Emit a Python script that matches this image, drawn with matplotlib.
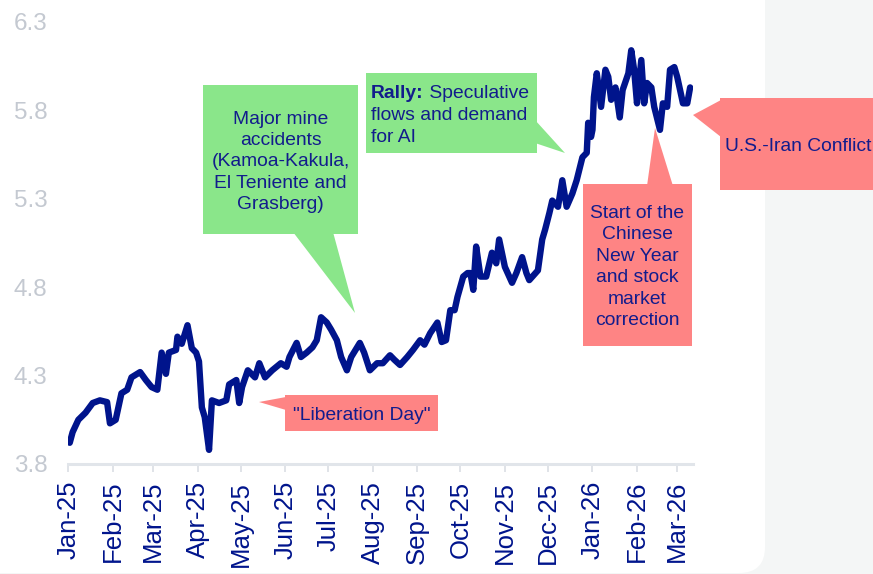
import matplotlib
matplotlib.use("Agg")
import matplotlib.pyplot as plt
import matplotlib.dates as mdates
from matplotlib.patches import Polygon, FancyBboxPatch
from matplotlib.transforms import IdentityTransform
import pandas as pd

plt.rcParams['font.family'] = ['Liberation Sans', 'DejaVu Sans']

# copper price (USD/lb)
dates = ["2025-01-02", "2025-01-04", "2025-01-08", "2025-01-13", "2025-01-18", "2025-01-23",
         "2025-01-28", "2025-01-30", "2025-02-03", "2025-02-07", "2025-02-11", "2025-02-14",
         "2025-02-20", "2025-02-24", "2025-02-28", "2025-03-04", "2025-03-07", "2025-03-10",
         "2025-03-12", "2025-03-17", "2025-03-18", "2025-03-21", "2025-03-25", "2025-03-28",
         "2025-03-31", "2025-04-02", "2025-04-04", "2025-04-06", "2025-04-09", "2025-04-11",
         "2025-04-16", "2025-04-21", "2025-04-23", "2025-04-28", "2025-04-30", "2025-05-02",
         "2025-05-06", "2025-05-11", "2025-05-14", "2025-05-18", "2025-05-23", "2025-05-29",
         "2025-06-02", "2025-06-04", "2025-06-09", "2025-06-12", "2025-06-16", "2025-06-20",
         "2025-06-23", "2025-06-26", "2025-06-30", "2025-07-03", "2025-07-07", "2025-07-10",
         "2025-07-14", "2025-07-17", "2025-07-23", "2025-07-26", "2025-07-30", "2025-08-04",
         "2025-08-08", "2025-08-13", "2025-08-16", "2025-08-20", "2025-08-25", "2025-08-29",
         "2025-09-03", "2025-09-06", "2025-09-10", "2025-09-15", "2025-09-18", "2025-09-21",
         "2025-09-24", "2025-09-27", "2025-09-29", "2025-10-03", "2025-10-06", "2025-10-08",
         "2025-10-10", "2025-10-12", "2025-10-15", "2025-10-19", "2025-10-23", "2025-10-26",
         "2025-10-28", "2025-11-01", "2025-11-06", "2025-11-09", "2025-11-13", "2025-11-16",
         "2025-11-18", "2025-11-24", "2025-11-27", "2025-11-29", "2025-12-02", "2025-12-04",
         "2025-12-08", "2025-12-11", "2025-12-14", "2025-12-18", "2025-12-21", "2025-12-25",
         "2025-12-28", "2025-12-29", "2025-12-31", "2026-01-01", "2026-01-02", "2026-01-04",
         "2026-01-07", "2026-01-10", "2026-01-12", "2026-01-14", "2026-01-17", "2026-01-20",
         "2026-01-22", "2026-01-26", "2026-01-28", "2026-01-30", "2026-02-01", "2026-02-04",
         "2026-02-06", "2026-02-08", "2026-02-11", "2026-02-13", "2026-02-17", "2026-02-19",
         "2026-02-22", "2026-02-24", "2026-02-27", "2026-03-01", "2026-03-05", "2026-03-08",
         "2026-03-10"]
prices = [3.92, 3.98, 4.05, 4.09, 4.145, 4.16,
          4.15, 4.03, 4.05, 4.20, 4.22, 4.29,
          4.32, 4.275, 4.235, 4.22, 4.43, 4.31,
          4.43, 4.445, 4.52, 4.48, 4.585, 4.455,
          4.43, 4.38, 4.12, 4.065, 3.88, 4.16,
          4.145, 4.16, 4.25, 4.275, 4.145, 4.235,
          4.33, 4.29, 4.37, 4.29, 4.33, 4.37,
          4.35, 4.405, 4.485, 4.405, 4.43, 4.46,
          4.50, 4.63, 4.60, 4.56, 4.50, 4.405,
          4.33, 4.405, 4.485, 4.43, 4.33, 4.37,
          4.37, 4.415, 4.39, 4.36, 4.405, 4.445,
          4.50, 4.475, 4.54, 4.60, 4.49, 4.50,
          4.67, 4.67, 4.745, 4.86, 4.88, 4.88,
          4.785, 5.03, 4.86, 4.86, 4.995, 4.935,
          5.07, 4.915, 4.825, 4.88, 4.97, 4.88,
          4.84, 4.895, 5.07, 5.125, 5.22, 5.29,
          5.255, 5.405, 5.255, 5.33, 5.405, 5.535,
          5.56, 5.73, 5.65, 5.69, 5.875, 6.01,
          5.82, 6.03, 5.99, 5.86, 5.93, 5.76,
          5.915, 6.01, 6.14, 6.03, 5.84, 6.085,
          5.84, 5.955, 5.93, 5.82, 5.69, 5.84,
          5.82, 6.03, 6.045, 5.99, 5.84, 5.84,
          5.93]

yticks = [3.8, 4.3, 4.8, 5.3, 5.8, 6.3]

W, H = 873, 574
navy = '#00148c'
text_col = '#121c8c'
green = '#8ae68a'
red = '#fe8484'

fig = plt.figure(figsize=(W / 100, H / 100), dpi=100)
fig.patch.set_facecolor('#f4f6f6')

# white panel with rounded corner
panel = FancyBboxPatch((-40, 1), 805, 640, boxstyle="round,pad=0,rounding_size=26",
                       transform=IdentityTransform(), facecolor='white', edgecolor='none', zorder=-5)
fig.add_artist(panel)

ax = fig.add_axes([68.3 / W, 1 - 464 / H, (693 - 68.3) / W, (464 - 22) / H])
ax.patch.set_visible(False)
x = pd.to_datetime(dates)
ax.plot(x, prices, color=navy, lw=4.6, solid_joinstyle='round', solid_capstyle='round')

ax.set_xlim(pd.Timestamp("2025-01-01"), pd.Timestamp("2026-03-12"))
ax.set_ylim(3.8, 6.3)
ax.set_yticks(yticks)
ax.set_yticklabels([f"{v:.1f}" for v in yticks])
ax.xaxis.set_major_locator(mdates.MonthLocator())
ax.xaxis.set_major_formatter(mdates.DateFormatter('%b-%y'))

for s in ['top', 'right', 'left']:
    ax.spines[s].set_visible(False)
ax.spines['bottom'].set_color('#e1e5ea')
ax.spines['bottom'].set_linewidth(2.2)
ax.tick_params(axis='y', length=0, pad=15, labelsize=17.5, labelcolor='#c4c9d1')
ax.tick_params(axis='x', length=6, width=1.3, color='#dde1e6', pad=6,
               labelsize=18.5, labelcolor=navy, labelrotation=90)


def callout(box, tip, color):
    l, t, r, b = box
    rect = Polygon([(l, H - t), (r, H - t), (r, H - b), (l, H - b)], closed=True,
                   transform=IdentityTransform(), facecolor=color, edgecolor='none', zorder=3)
    tri = Polygon([(px, H - py) for px, py in tip], closed=True,
                  transform=IdentityTransform(), facecolor=color, edgecolor='none', zorder=3)
    fig.add_artist(rect)
    fig.add_artist(tri)


def ftext(px, py, s, **kw):
    return fig.text(px / W, 1 - py / H, s, color=text_col, fontsize=13.9, zorder=5, **kw)


# Major mine accidents
callout((203, 85, 358, 234), [(293, 232), (333, 232), (355, 313)], green)
ftext(280.5, 162, "Major mine\naccidents\n(Kamoa-Kakula,\nEl Teniente and\nGrasberg)",
      ha='center', va='center', linespacing=1.34)

# Rally (bold lead-in followed by regular text on the same line)
callout((366, 73, 537, 153), [(535, 120), (535, 143), (565, 153)], green)
t1 = ftext(371, 102, "Rally:", ha='left', va='bottom', fontweight='bold')
bb = t1.get_window_extent(fig.canvas.get_renderer())
ftext(bb.x1, 102, " Speculative", ha='left', va='bottom')
ftext(371, 115, "flows and demand", ha='left', va='center')
ftext(371, 138, "for AI", ha='left', va='center')

# Liberation Day
callout((285, 395, 438, 431), [(286, 397), (286, 410), (259, 402)], red)
ftext(361.7, 415, '"Liberation Day"', ha='center', va='center')

# Chinese New Year
callout((583, 184, 692, 346), [(647, 186), (673, 186), (655, 128)], red)
ftext(637.5, 267, "Start of the\nChinese\nNew Year\nand stock\nmarket\ncorrection",
      ha='center', va='center', linespacing=1.34)

# U.S.-Iran
callout((720, 98, 890, 190), [(721, 100), (721, 137), (693, 115)], red)
ftext(725, 146.7, "U.S.-Iran Conflict", ha='left', va='center')

fig.savefig('out.png', dpi=100, facecolor=fig.get_facecolor())
